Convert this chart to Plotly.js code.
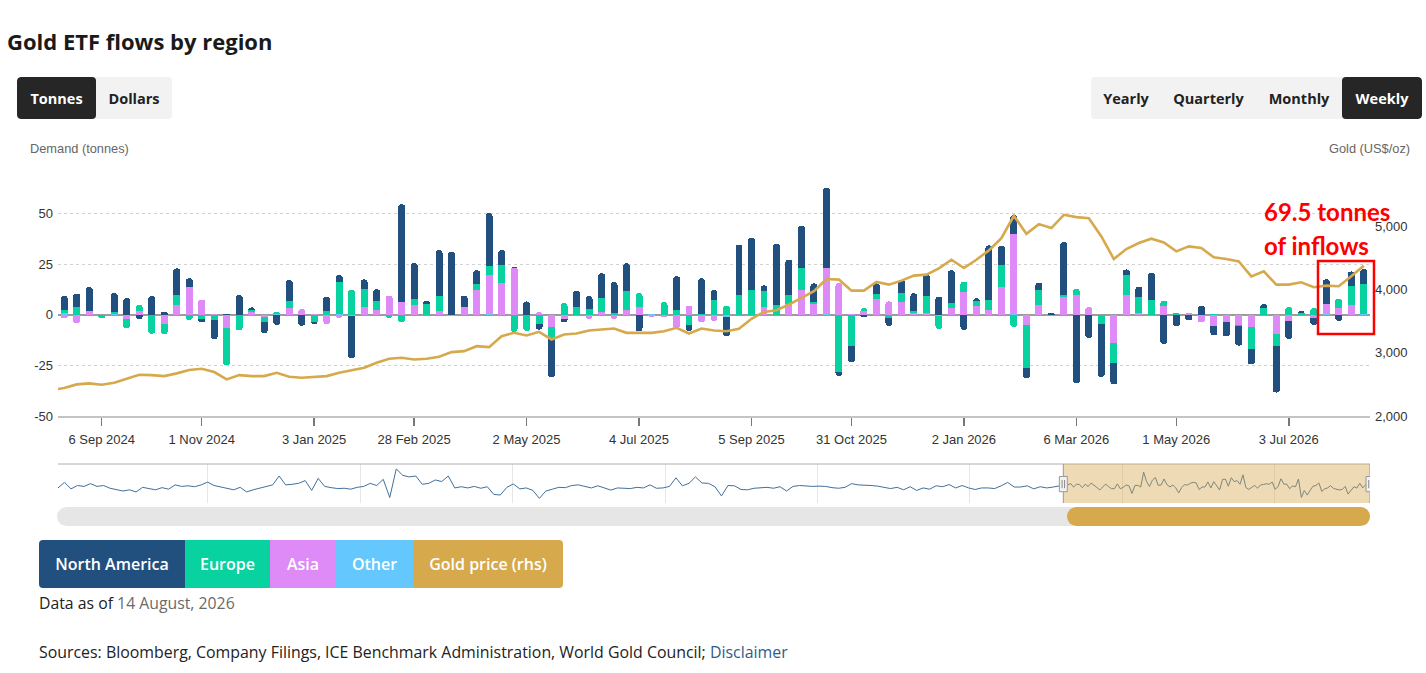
<!DOCTYPE html>
<html><head><meta charset="utf-8">
<script src="https://cdn.plot.ly/plotly-3.0.1.min.js"></script>
<style>
html,body{margin:0;padding:0;background:#fff;}
body{width:1426px;height:673px;overflow:hidden;position:relative;font-family:"Open Sans","Noto Sans",sans-serif;}
#chart{position:absolute;left:0;top:0;width:1426px;height:673px;}
.abs{position:absolute;}
.title{left:7px;top:26px;font-size:22px;font-weight:700;color:#1a1a1a;line-height:30px;white-space:nowrap;}
.btns{display:flex;height:42px;top:77px;border-radius:4px;overflow:hidden;background:#f2f2f2;}
.btns div{display:flex;align-items:center;justify-content:center;font-size:14.5px;font-weight:700;color:#222;}
.btns div.on{background:#262626;color:#fff;border-radius:4px;}
.legend{left:39px;top:540px;height:48px;display:flex;border-radius:4px;overflow:hidden;}
.legend div{display:flex;align-items:center;justify-content:center;color:#fff;font-size:16px;font-weight:600;}
.track{left:57px;top:507px;width:1313px;height:19px;background:#e6e6e6;border-radius:10px;}
.thumb{left:1067px;top:507px;width:303px;height:19px;background:#d6a94c;border-radius:10px;}
.asof{left:39px;top:591px;font-size:15.8px;color:#222;line-height:24px;white-space:nowrap;}
.asof span{color:#6b6b6b;}
.src{left:39px;top:640px;font-size:15.9px;color:#222;line-height:24px;white-space:nowrap;}
.src span{color:#2b5d8c;}
</style></head>
<body>
<div id="chart"></div>
<div class="abs title">Gold ETF flows by region</div>
<div class="abs btns" style="left:17px;">
  <div class="on" style="width:79px;">Tonnes</div>
  <div style="width:76px;">Dollars</div>
</div>
<div class="abs btns" style="left:1091px;">
  <div style="width:70px;">Yearly</div>
  <div style="width:95px;">Quarterly</div>
  <div style="width:86px;">Monthly</div>
  <div class="on" style="width:80px;">Weekly</div>
</div>
<div class="abs track"></div>
<div class="abs thumb"></div>
<div class="abs legend">
  <div style="width:146px;background:#22507e;">North America</div>
  <div style="width:85px;background:#07d2a0;">Europe</div>
  <div style="width:66px;background:#de8af7;">Asia</div>
  <div style="width:77px;background:#64c8ff;">Other</div>
  <div style="width:150px;background:#d6a94c;">Gold price (rhs)</div>
</div>
<div class="abs asof">Data as of <span>14 August, 2026</span></div>
<div class="abs src">Sources: Bloomberg, Company Filings, ICE Benchmark Administration, World Gold Council; <span>Disclaimer</span></div>
<script>
// ---- data (weekly, Fridays, starting 16 Aug 2024) ----
const weekStart = '2024-08-16';
const northAmerica = [7.0,6.4,11.5,0,9.2,8.2,-2.1,9.2,1.5,13.1,4.4,-1.5,-9.5,0.5,9.7,1.2,-5.5,-5.0,10.2,-5.4,-1.2,
 7.0,3.5,-21.0,4.9,5.6,0,48.4,17.8,1.6,22.6,31.0,5.4,6.8,26.3,7.4,0.5,6.6,-2.8,-19.3,-1.8,7.9,
 6.4,12.3,15.3,13.4,-8.2,0,0,16.5,-3.1,17.5,4.9,-9.6,24.8,25.7,2.6,30.2,17.5,20.9,9.0,39.7,-1.6,
 -7.7,-1.3,5.2,-3.9,6.6,8.5,10.6,9.0,16.3,-7.4,1.2,26.9,9.5,9.3,-5.3,3.5,1.0,26.1,-33.8,-11.4,
 -26.2,-10.6,2.8,4.9,13.4,-14.4,-5.7,-2.8,4.4,-4.6,-6.9,-9.5,-7.8,1.9,-22.9,-8.9,1.2,-3.4,12.3,-3.0,7.4,7.2];
const europe = [1.2,4.1,0,-1.8,1.0,-4.3,2.9,-9.0,-5.1,4.9,-2.5,-2.3,-2.2,-18.3,-7.7,1.2,-2.5,1.1,3.7,0,-3.5,
 2.0,15.8,12.3,8.5,4.5,-1.5,-3.8,2.9,5.4,7.2,0,0,2.9,4.1,9.0,-8.5,-7.9,-4.5,-5.5,5.7,4.1,
 2.9,6.6,0.8,9.5,6.6,0,6.2,2.5,-4.9,0.5,7.4,4.4,9.8,12.3,7.8,4.9,4.5,10.8,1.2,0,-28.5,
 -15.6,1.3,2.5,-1.5,4.1,1.3,8.2,-6.4,2.1,4.9,2.6,4.9,10.6,-6.0,-21.2,7.4,0,1.1,2.9,0,
 -4.4,-9.8,9.8,7.9,7.4,2.6,1.1,0,0,0.5,0,-0.8,-10.5,3.3,-6.2,3.8,0.8,3.3,0,4.6,9.1,14.7];
const asia = [-1.8,-4.1,2.1,0,0,-2.0,2.0,-0.3,-4.4,4.9,13.6,7.5,0.5,-6.5,0,1.3,-1.0,0,3.3,2.8,0.6,
 -4.5,-1.5,-0.5,4.1,2.5,9.5,6.2,4.9,0,2.1,0,4.1,12.3,19.4,15.5,23.3,0,1.2,-6.0,-2.0,0,
 -2.0,1.6,-2.0,2.5,4.1,-1.0,-1.3,-6.8,4.4,-3.6,-3.0,0,0,0,4.1,0,5.3,12.3,5.3,22.5,15.6,
 0.5,2.0,7.8,6.6,6.5,0.8,1.1,0,3.6,11.4,4.4,2.5,13.9,39.2,-4.9,4.9,0,8.7,9.8,3.8,
 0,-13.9,9.8,1.1,0,4.4,0,1.0,-3.8,-5.5,-3.8,-4.9,-6.2,0,-9.3,-3.0,0,-1.5,4.9,3.3,4.9,0.3];
const other = [1.1,0,0,0,0.5,-0.3,0,0,0,0,0,0,-0.3,0,0,0,0,0.5,0,0,0,
 0,0.3,0,0,0,0,0,0,0,0,-0.8,0,0,0.5,0,0,0,0,0,0,0,
 0,0,0,0,0,0.3,0,0,0,0,0,-1.0,0,0,0,0,0,0,0,0.5,0,
 0,0,0,0,0,0,0,-0.5,0,0,0,0,0,0.8,0,0,0,0,0,0,
 0,0,0,0,0,0,0,0,0,0,0,0,0,0,0,0,0,0,0.3,0,0,0.3];
// gold price (US$/oz), weekly from 9 Aug 2024
const goldStart = '2024-08-09';
const goldPrice = [2410,2442,2500,2516,2495,2526,2589,2652,2647,2631,2674,2726,2747,2695,2579,2647,2631,2631,2684,2621,2605,2621,
 2631,2684,2721,2763,2842,2905,2920,2894,2905,2936,3010,3026,3104,3089,3262,3315,3273,3331,3210,3289,3304,
 3352,3367,3383,3315,3315,3315,3341,3394,3304,3383,3352,3341,3378,3536,3646,3672,3762,3861,3972,4166,4156,
 3982,3982,4119,4077,4140,4219,4235,4335,4471,4340,4471,4618,4813,5165,4881,5034,4971,5181,5144,5128,
 4839,4482,4640,4734,4803,4745,4603,4682,4655,4508,4482,4445,4208,4287,4077,4077,4114,4035,4061,4051,4208,4377];
// navigator: earlier North America flow history read from the overview strip (sampled every ~15.6 days from 7 Jan 2018)
const navHistStart = '2018-01-07';
const navHistStepDays = 15.59;
const navHistory = [-3,15,-6,5,2,11,2,5,-4,-9,-13,-9,-16,-1,-5,-9,-2,-7,7,2,4,1,7,16,5,1,-5,-9,-1,-16,
 -9,-4,2,7,36,7,9,12,21,-11,28,2,-2,-5,-4,-7,-1,2,12,5,25,-34,59,38,33,36,9,12,23,18,
 36,-3,1,-3,2,-4,1,-24,-26,-1,10,-6,-3,-11,-37,-13,-7,-1,-2,5,7,1,-3,4,-4,-10,-3,-3,-5,-1,
 -3,7,-4,-3,2,30,4,12,33,13,12,1,-29,5,
 4,-8,-9,-4,-3,-1,-4,1,-13,2,5,3,2,3,2,-2,-4,-1,11,7,7,5,3,-2,-5,-1,-9,1,-11,-3,
 -7,4,1,8,-3,5,-3,-8,-3,-3,-5,4,15,0,0,4,-6,1,-3,0,4];
const tickDates = ['2024-09-06','2024-11-01','2025-01-03','2025-02-28','2025-05-02','2025-07-04','2025-09-05','2025-10-31','2026-01-02','2026-03-06','2026-05-01','2026-07-03'];
const tickLabels = ['6 Sep 2024','1 Nov 2024','3 Jan 2025','28 Feb 2025','2 May 2025','4 Jul 2025','5 Sep 2025','31 Oct 2025','2 Jan 2026','6 Mar 2026','1 May 2026','3 Jul 2026'];
const yTicks = [-50,-25,0,25,50,75];
const yTickText = ['-50','-25','0','25','50',''];
const goldTicks = [2000,3000,4000,5000];
const navYearLines = ['2019-01-01','2020-01-01','2021-01-01','2022-01-01','2023-01-01','2024-01-01','2025-01-01','2026-01-01'];

// ---- helpers ----
const DAY = 864e5;
function iso(ms){ return new Date(ms).toISOString().slice(0,19).replace('T',' '); }
function weekly(start, n){ const t0 = Date.parse(start+'T00:00:00Z'); return Array.from({length:n},(_,i)=>iso(t0+i*7*DAY)); }
const weeks = weekly(weekStart, northAmerica.length);
const goldWeeks = weekly(goldStart, goldPrice.length);
const navT0 = Date.parse(navHistStart+'T00:00:00Z');
const navX = navHistory.map((_,i)=>iso(navT0+i*navHistStepDays*DAY)).concat(weeks);
const navY = navHistory.concat(northAmerica);

const C = {na:'#22507e', eu:'#07d2a0', as:'#de8af7', ot:'#64c8ff', gold:'#d6a94c'};
const barW = 3.9*DAY;
const xStart = iso(Date.parse(weekStart+'T00:00:00Z') - 3.5*DAY);
const xEnd = iso(Date.parse(weeks[weeks.length-1].replace(' ','T')+'Z') + 3.5*DAY);

function bar(y, color, name){ return {type:'bar', x:weeks, y:y, name:name, marker:{color:color, line:{width:0}}, width:barW, xaxis:'x', yaxis:'y', hoverinfo:'skip'}; }
const traces = [
  bar(other, C.ot, 'Other'),
  bar(asia, C.as, 'Asia'),
  bar(europe, C.eu, 'Europe'),
  bar(northAmerica, C.na, 'North America'),
  {type:'scatter', mode:'lines', x:goldWeeks, y:goldPrice, name:'Gold price (rhs)', line:{color:C.gold, width:2.6}, xaxis:'x', yaxis:'y2', hoverinfo:'skip', cliponaxis:true},
  {type:'scatter', mode:'lines', x:navX, y:navY, line:{color:'#41709c', width:1}, xaxis:'x3', yaxis:'y3', hoverinfo:'skip'}
];

const W=1426, H=673;
const px = v=>v/W, py = v=>1-v/H;
const xDom = [px(58), px(1370)];
const tickFont = {family:'"Liberation Sans", Arial, sans-serif', size:13, color:'#333'};
const handleDays = 9.5;
function handle(xd){
  const t = Date.parse(xd.replace(' ','T')+'Z');
  return [
    {type:'line', xref:'x3', yref:'y3 domain', x0:xd, x1:xd, y0:0, y1:1, line:{color:'#9a9a9a', width:1}, layer:'above'},
    {type:'rect', xref:'x3', yref:'y3 domain', x0:iso(t-handleDays*DAY), x1:iso(t+handleDays*DAY), y0:0.29, y1:0.68, fillcolor:'#f2f2f2', line:{color:'#999', width:1}, layer:'above'},
    {type:'line', xref:'x3', yref:'y3 domain', x0:iso(t-3*DAY), x1:iso(t-3*DAY), y0:0.38, y1:0.59, line:{color:'#888', width:1}, layer:'above'},
    {type:'line', xref:'x3', yref:'y3 domain', x0:iso(t+3*DAY), x1:iso(t+3*DAY), y0:0.38, y1:0.59, line:{color:'#888', width:1}, layer:'above'}
  ];
}
const shapes = [
  {type:'line', xref:'x3 domain', yref:'y3 domain', x0:0, x1:1, y0:1, y1:1, line:{color:'#b0b0b0', width:1}},
  {type:'rect', xref:'x3', yref:'y3 domain', x0:xStart, x1:xEnd, y0:0, y1:1, fillcolor:'rgba(214,168,76,0.42)', line:{width:0}, layer:'above'},
  ...handle(xStart), ...handle(xEnd),
  {type:'rect', xref:'paper', yref:'paper', x0:px(1318), x1:px(1374), y0:py(334), y1:py(261), line:{color:'#ff0000', width:2.5}, fillcolor:'rgba(0,0,0,0)', layer:'above'}
];

const layout = {
  width:W, height:H, autosize:false,
  margin:{l:0,r:0,t:0,b:0,pad:0},
  paper_bgcolor:'#fff', plot_bgcolor:'rgba(0,0,0,0)',
  showlegend:false, barmode:'relative', bargap:0, barcornerradius:3,
  font:tickFont,
  xaxis:{domain:xDom, anchor:'y', type:'date', range:[xStart,xEnd], tickmode:'array', tickvals:tickDates, ticktext:tickLabels,
    ticks:'outside', ticklen:8, tickwidth:1.5, tickcolor:'#777', showline:true, linecolor:'#c4c4c4', linewidth:1.5,
    showgrid:false, zeroline:false, tickfont:tickFont, ticklabelstandoff:3, fixedrange:true},
  yaxis:{domain:[py(416), py(163)], anchor:'x', range:[-50,75], tickmode:'array', tickvals:yTicks, ticktext:yTickText,
    showgrid:true, gridcolor:'#d2d2d2', griddash:'dot', gridwidth:1, zeroline:true, zerolinecolor:'#9c9c9c', zerolinewidth:1.6,
    ticks:'', tickfont:tickFont, ticklabelstandoff:4, showline:false, fixedrange:true},
  yaxis2:{overlaying:'y', side:'right', anchor:'x', range:[2000,6000], tickmode:'array', tickvals:goldTicks, tickformat:',d',
    showgrid:false, zeroline:false, ticks:'', tickfont:tickFont, ticklabelstandoff:4, fixedrange:true},
  xaxis3:{domain:xDom, anchor:'y3', type:'date', range:[navHistStart, xEnd], tickmode:'array', tickvals:navYearLines,
    showticklabels:false, ticks:'', showgrid:true, gridcolor:'#e6e6e6', zeroline:false, showline:false, fixedrange:true},
  yaxis3:{domain:[py(503), py(464)], anchor:'x3', range:[-52,75], showticklabels:false, showgrid:false, zeroline:false, ticks:'', fixedrange:true},
  shapes:shapes,
  annotations:[
    {xref:'paper', yref:'paper', x:px(28), y:py(148), xanchor:'left', yanchor:'middle', text:'Demand (tonnes)', showarrow:false, font:{family:'"Liberation Sans", Arial, sans-serif', size:12.8, color:'#666'}},
    {xref:'paper', yref:'paper', x:px(1412), y:py(148), xanchor:'right', yanchor:'middle', text:'Gold (US$/oz)', showarrow:false, font:{family:'"Liberation Sans", Arial, sans-serif', size:12.8, color:'#666'}},
    {xref:'paper', yref:'paper', x:px(1262), y:py(211), xanchor:'left', yanchor:'middle', text:'<b>69.5 tonnes</b>', showarrow:false, font:{family:'Lato, "Open Sans", sans-serif', size:24, color:'#ff0000'}},
    {xref:'paper', yref:'paper', x:px(1262), y:py(245), xanchor:'left', yanchor:'middle', text:'<b>of inflows</b>', showarrow:false, font:{family:'Lato, "Open Sans", sans-serif', size:24, color:'#ff0000'}}
  ]
};
Plotly.newPlot('chart', traces, layout, {displayModeBar:false, staticPlot:true});
</script>
</body></html>
